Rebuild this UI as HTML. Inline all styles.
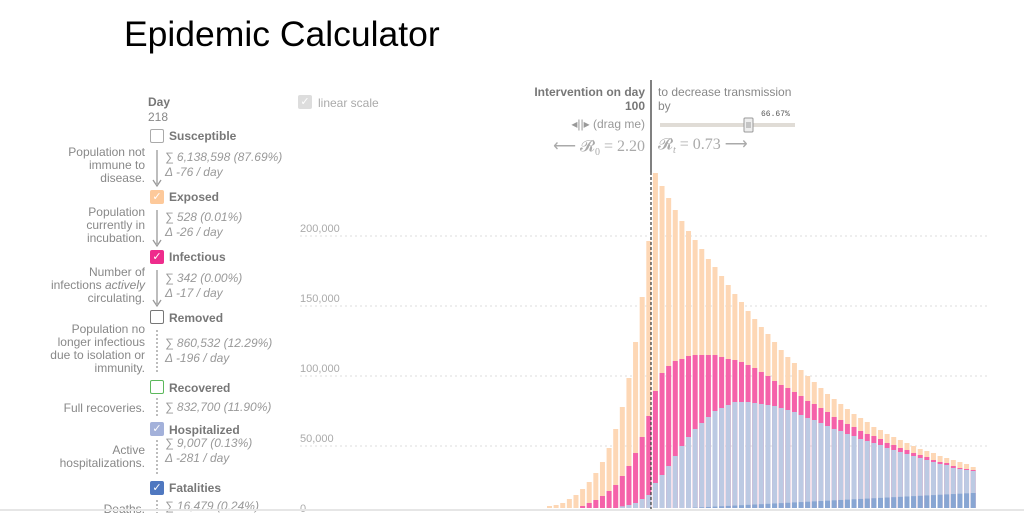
<!DOCTYPE html>
<html><head><meta charset="utf-8"><style>
body{margin:0;width:1024px;height:513px;overflow:hidden;background:#fff;font-family:"Liberation Sans",sans-serif;position:relative}
.a{position:absolute;white-space:nowrap}
.t{font-size:12px;color:#888}
.r{text-align:right}
.b{font-weight:bold;color:#777}
.i{font-style:italic;color:#999;line-height:15px}
.cb{position:absolute;width:12px;height:12px;border-radius:2px;border:1px solid #aaa;left:150px;color:#fff;font-size:11px;line-height:12px;text-align:center}
.ser{font-family:"Liberation Serif",serif;font-size:16px;color:#aaa}
</style></head><body>
<div class="a" style="left:124px;top:14px;font-size:35.5px;color:#000">Epidemic Calculator</div>

<div class="a t b" style="left:148px;top:95px">Day</div>
<div class="a t" style="left:148px;top:110px">218</div>

<div class="cb" style="top:129px;background:#fff"></div><div class="a t b" style="left:169px;top:129px">Susceptible</div>
<div class="a t r" style="right:879px;top:146px;line-height:13px">Population not<br>immune to<br>disease.</div>
<div class="a t i" style="left:165px;top:150px">∑ 6,138,598 (87.69%)<br>Δ -76 / day</div>

<div class="cb" style="top:190px;background:#fdc99a;border-color:#fdc99a">✓</div><div class="a t b" style="left:169px;top:190px">Exposed</div>
<div class="a t r" style="right:879px;top:206px;line-height:13px">Population<br>currently in<br>incubation.</div>
<div class="a t i" style="left:165px;top:210px">∑ 528 (0.01%)<br>Δ -26 / day</div>

<div class="cb" style="top:250px;background:#ee2c8c;border-color:#ee2c8c">✓</div><div class="a t b" style="left:169px;top:250px">Infectious</div>
<div class="a t r" style="right:879px;top:266px;line-height:13px">Number of<br>infections <i>actively</i><br>circulating.</div>
<div class="a t i" style="left:165px;top:271px">∑ 342 (0.00%)<br>Δ -17 / day</div>

<div class="cb" style="top:310px;background:#fff;border-color:#777"></div><div class="a t b" style="left:169px;top:311px">Removed</div>
<div class="a t r" style="right:879px;top:323px;line-height:13px">Population no<br>longer infectious<br>due to isolation or<br>immunity.</div>
<div class="a t i" style="left:165px;top:336px">∑ 860,532 (12.29%)<br>Δ -196 / day</div>

<div class="cb" style="top:380px;background:#fff;border-color:#5cb85c"></div><div class="a t b" style="left:169px;top:381px">Recovered</div>
<div class="a t r" style="right:879px;top:401px">Full recoveries.</div>
<div class="a t i" style="left:165px;top:400px">∑ 832,700 (11.90%)</div>

<div class="cb" style="top:422px;background:#a3b1da;border-color:#a3b1da">✓</div><div class="a t b" style="left:169px;top:423px">Hospitalized</div>
<div class="a t r" style="right:879px;top:444px;line-height:13px">Active<br>hospitalizations.</div>
<div class="a t i" style="left:165px;top:436px">∑ 9,007 (0.13%)<br>Δ -281 / day</div>

<div class="cb" style="top:481px;background:#4f78c0;border-color:#4f78c0">✓</div><div class="a t b" style="left:169px;top:481px">Fatalities</div>
<div class="a t r" style="right:879px;top:502px">Deaths.</div>
<div class="a t i" style="left:165px;top:499px">∑ 16,479 (0.24%)</div>

<svg class="a" style="left:0;top:0" width="1024" height="513">
<g stroke="#999" stroke-width="1.3" fill="none">
<line x1="157" y1="150" x2="157" y2="184"/><path d="M153 180 L157 186 L161 180"/>
<line x1="157" y1="210" x2="157" y2="244"/><path d="M153 240 L157 246 L161 240"/>
<line x1="157" y1="270" x2="157" y2="304"/><path d="M153 300 L157 306 L161 300"/>
<line x1="157" y1="330" x2="157" y2="374" stroke-dasharray="2,2"/>
<line x1="157" y1="398" x2="157" y2="416" stroke-dasharray="2,2"/>
<line x1="157" y1="440" x2="157" y2="475" stroke-dasharray="2,2"/>
<line x1="157" y1="500" x2="157" y2="513" stroke-dasharray="2,2"/>
</g>
<g stroke="#ddd" stroke-dasharray="2,3">
<line x1="300" y1="236" x2="990" y2="236"/><line x1="300" y1="306" x2="990" y2="306"/>
<line x1="300" y1="376" x2="990" y2="376"/><line x1="300" y1="446" x2="990" y2="446"/>
</g>
<g font-size="11" fill="#aaa" font-family="Liberation Sans">
<text x="300" y="232">200,000</text><text x="300" y="302">150,000</text>
<text x="300" y="372">100,000</text><text x="300" y="442">50,000</text><text x="300" y="512">0</text>
</g>
<g id="bars"></g>
<line x1="651" y1="80" x2="651" y2="172" stroke="#555" stroke-width="1.5"/>
<line x1="651" y1="172" x2="651" y2="510" stroke="#333" stroke-width="1.2" stroke-dasharray="3,2"/>
<line x1="0" y1="510" x2="1024" y2="510" stroke="#e6e6e6" stroke-width="2"/>
<line x1="660" y1="125" x2="795" y2="125" stroke="#e0dcd6" stroke-width="4"/>
<rect x="744" y="118" width="9" height="14" fill="#eee" stroke="#999" rx="1"/>
<g stroke="#999"><line x1="746" y1="123" x2="751" y2="123"/><line x1="746" y1="125" x2="751" y2="125"/><line x1="746" y1="127" x2="751" y2="127"/></g>
<text x="761" y="116" font-size="8" fill="#555" font-family="Liberation Mono">66.67%</text>
</svg>

<div class="a t b r" style="right:379px;top:85px">Intervention on day<br>100</div>
<div class="a t r" style="right:379px;top:117px;color:#999">◂||▸ (drag me)</div>
<div class="a ser r" style="right:379px;top:136px">⟵ 𝓡<sub style="font-size:10px">0</sub> = 2.20</div>
<div class="a t" style="left:658px;top:85px;line-height:14px">to decrease transmission<br>by</div>
<div class="a ser" style="left:658px;top:134px">𝓡<sub style="font-size:10px"><i>t</i></sub> = 0.73 ⟶</div>

<div class="a" style="left:298px;top:95px;width:14px;height:14px;background:#ddd;border-radius:2px;color:#fff;font-size:11px;text-align:center;line-height:14px">✓</div>
<div class="a t" style="left:318px;top:96px;color:#aaa">linear scale</div>

<script>
var T=[2,3,5,9,13,19,26,35,46,60,79,101,130,166,211,267,335,322,310,298,287,277,268,259,249,241,232,223,214,206,197,189,181,174,166,158,151,145,138,132,126,120,114,109,104,99,94,90,86,81,78,74,71,68,65,62,59,57,55,52,50,48,46,44,41];
var P=[0,0,0,0,0,2,5,8,12,17,23,32,42,55,71,92,117,135,142,147,149,152,153,153,153,153,151,149,148,146,143,140,136,132,127,123,120,115,111,108,104];
var B=[0,0,0,0,0,0,0,0,0,0,0,1.7,3,5,9,13,25,33,42,52,62,71,79,85,91,97,100,103,106,106,106,105,104,103,102,100];
var bt=[100,98,96,93,90,88,85,82,79,77,74,72,69,67,65,63,60,58,56,54,52,50,48,46,44,43,42,41,40,39];
for(var i=35;i<65;i++){B[i]=bt[i-35]+(i>60?-2:0);}
var band=[23,22,20,19,17,16,15,14,12,11,10,9,8,7,7,6,5,5,4,4,3,3,3,2,2,2,2,1,1,1];
for(var i=35;i<65;i++){P[i]=B[i]+band[i-35];}
var s='';
for(var i=0;i<65;i++){
 var x=547+i*6.62,w=5,b=508;
 var t=T[i],p=P[i]||0,l=B[i]||0,d=i>21?(i-21)*15/43:0;
 if(p>t)p=t;
 s+='<rect x="'+x+'" y="'+(b-t)+'" width="'+w+'" height="'+t+'" fill="#fdd7b5"/>';
 if(p>0)s+='<rect x="'+x+'" y="'+(b-p)+'" width="'+w+'" height="'+p+'" fill="#f562aa"/>';
 if(l>0)s+='<rect x="'+x+'" y="'+(b-l)+'" width="'+w+'" height="'+l+'" fill="#bccae3"/>';
 if(d>0)s+='<rect x="'+x+'" y="'+(b-d)+'" width="'+w+'" height="'+d+'" fill="#88a6d3"/>';
}
document.getElementById('bars').innerHTML=s;
</script>
</body></html>
